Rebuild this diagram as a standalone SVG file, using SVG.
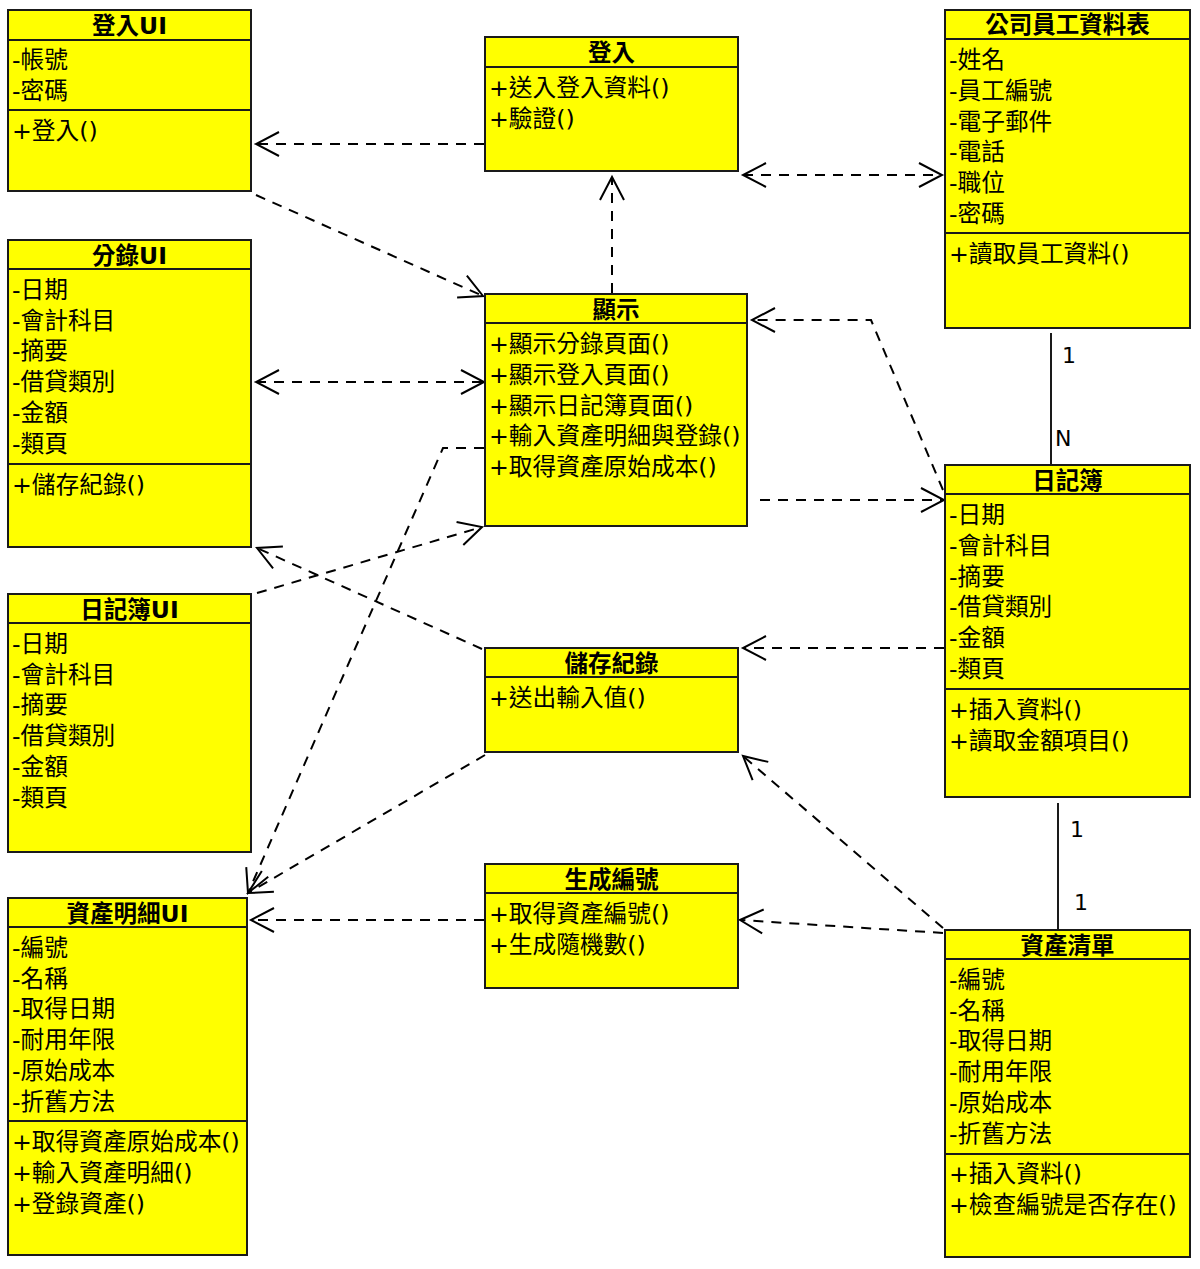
<svg xmlns="http://www.w3.org/2000/svg" width="1200" height="1269" viewBox="0 0 1200 1269">
<style>
.box{fill:#ffff00;stroke:#1a1a1a;stroke-width:2}
.sep{stroke:#1a1a1a;stroke-width:2}
text{font-family:"DejaVu Sans","Noto Sans CJK TC",sans-serif;fill:#000}
.h{font-size:23.5px;font-weight:bold;text-anchor:middle}
.t{font-size:23.7px}
.dep{fill:none;stroke:#000;stroke-width:2;stroke-dasharray:10,8}
.assoc{fill:none;stroke:#1a1a1a;stroke-width:2}
.lbl{font-size:22px}
</style>
<defs>
<marker id="arr" markerUnits="userSpaceOnUse" viewBox="-26 -15 30 30" refX="0" refY="0" markerWidth="30" markerHeight="30" orient="auto-start-reverse">
<path d="M -23 -12 L 0 0 L -23 12" fill="none" stroke="#000" stroke-width="2"/>
</marker>
</defs>

<g id="connectors">
<path class="dep" d="M 484 144 L 256 144" marker-end="url(#arr)"/>
<path class="dep" d="M 256 195 L 483 296" marker-end="url(#arr)"/>
<path class="dep" d="M 612 293 L 612 177" marker-end="url(#arr)"/>
<path class="dep" d="M 743 175 L 942 175" marker-start="url(#arr)" marker-end="url(#arr)"/>
<path class="dep" d="M 256 382 L 484 382" marker-start="url(#arr)" marker-end="url(#arr)"/>
<path class="dep" d="M 943 490 L 871 320 L 752 320" marker-end="url(#arr)"/>
<path class="dep" d="M 760 500 L 944 500" marker-end="url(#arr)"/>
<path class="dep" d="M 484 448 L 443 448 L 248 893" marker-end="url(#arr)"/>
<path class="dep" d="M 257 593 L 482 527" marker-end="url(#arr)"/>
<path class="dep" d="M 482 649 L 257 548" marker-end="url(#arr)"/>
<path class="dep" d="M 944 648 L 743 648" marker-end="url(#arr)"/>
<path class="dep" d="M 485 755 L 248 893" marker-end="url(#arr)"/>
<path class="dep" d="M 943 928 L 743 756" marker-end="url(#arr)"/>
<path class="dep" d="M 943 933 L 740 920" marker-end="url(#arr)"/>
<path class="dep" d="M 484 920 L 251 920" marker-end="url(#arr)"/>
<path class="assoc" d="M 1051 333 L 1051 465"/>
<path class="assoc" d="M 1058 803 L 1058 930"/>
<text class="lbl" x="1062" y="363">1</text>
<text class="lbl" x="1055" y="446">N</text>
<text class="lbl" x="1070" y="837">1</text>
<text class="lbl" x="1074" y="910">1</text>
</g>

<g id="loginUI">
<rect class="box" x="8" y="10" width="243" height="181"/>
<line class="sep" x1="8" y1="40" x2="251" y2="40"/>
<line class="sep" x1="8" y1="110" x2="251" y2="110"/>
<text class="h" x="129.5" y="34">登入UI</text>
<text class="t" x="12" y="68">-帳號</text>
<text class="t" x="12" y="99">-密碼</text>
<text class="t" x="12" y="139">+登入()</text>
</g>

<g id="login">
<rect class="box" x="485" y="37" width="253" height="134"/>
<line class="sep" x1="485" y1="67" x2="738" y2="67"/>
<text class="h" x="611.5" y="61">登入</text>
<text class="t" x="489" y="96">+送入登入資料()</text>
<text class="t" x="489" y="127">+驗證()</text>
</g>

<g id="employee">
<rect class="box" x="945" y="10" width="245" height="318"/>
<line class="sep" x1="945" y1="39" x2="1190" y2="39"/>
<line class="sep" x1="945" y1="233" x2="1190" y2="233"/>
<text class="h" x="1067.5" y="33">公司員工資料表</text>
<text class="t" x="949" y="68">-姓名</text>
<text class="t" x="949" y="99">-員工編號</text>
<text class="t" x="949" y="130">-電子郵件</text>
<text class="t" x="949" y="160">-電話</text>
<text class="t" x="949" y="191">-職位</text>
<text class="t" x="949" y="222">-密碼</text>
<text class="t" x="949" y="262">+讀取員工資料()</text>
</g>

<g id="display">
<rect class="box" x="485" y="294" width="262" height="232"/>
<line class="sep" x1="485" y1="323" x2="747" y2="323"/>
<text class="h" x="616" y="318">顯示</text>
<text class="t" x="489" y="352">+顯示分錄頁面()</text>
<text class="t" x="489" y="383">+顯示登入頁面()</text>
<text class="t" x="489" y="414">+顯示日記簿頁面()</text>
<text class="t" x="489" y="444">+輸入資產明細與登錄()</text>
<text class="t" x="489" y="475">+取得資產原始成本()</text>
</g>

<g id="entryUI">
<rect class="box" x="8" y="240" width="243" height="307"/>
<line class="sep" x1="8" y1="269" x2="251" y2="269"/>
<line class="sep" x1="8" y1="464" x2="251" y2="464"/>
<text class="h" x="129.5" y="264">分錄UI</text>
<text class="t" x="12" y="298">-日期</text>
<text class="t" x="12" y="329">-會計科目</text>
<text class="t" x="12" y="359">-摘要</text>
<text class="t" x="12" y="390">-借貸類別</text>
<text class="t" x="12" y="421">-金額</text>
<text class="t" x="12" y="452">-類頁</text>
<text class="t" x="12" y="493">+儲存紀錄()</text>
</g>

<g id="journalUI">
<rect class="box" x="8" y="594" width="243" height="258"/>
<line class="sep" x1="8" y1="623" x2="251" y2="623"/>
<text class="h" x="129.5" y="618">日記簿UI</text>
<text class="t" x="12" y="652">-日期</text>
<text class="t" x="12" y="683">-會計科目</text>
<text class="t" x="12" y="713">-摘要</text>
<text class="t" x="12" y="744">-借貸類別</text>
<text class="t" x="12" y="775">-金額</text>
<text class="t" x="12" y="806">-類頁</text>
</g>

<g id="assetUI">
<rect class="box" x="8" y="898" width="239" height="357"/>
<line class="sep" x1="8" y1="927" x2="247" y2="927"/>
<line class="sep" x1="8" y1="1121" x2="247" y2="1121"/>
<text class="h" x="127.5" y="922">資產明細UI</text>
<text class="t" x="12" y="956">-編號</text>
<text class="t" x="12" y="987">-名稱</text>
<text class="t" x="12" y="1017">-取得日期</text>
<text class="t" x="12" y="1048">-耐用年限</text>
<text class="t" x="12" y="1079">-原始成本</text>
<text class="t" x="12" y="1110">-折舊方法</text>
<text class="t" x="12" y="1150">+取得資產原始成本()</text>
<text class="t" x="12" y="1181">+輸入資產明細()</text>
<text class="t" x="12" y="1212">+登錄資產()</text>
</g>

<g id="save">
<rect class="box" x="485" y="648" width="253" height="104"/>
<line class="sep" x1="485" y1="677" x2="738" y2="677"/>
<text class="h" x="611.5" y="672">儲存紀錄</text>
<text class="t" x="489" y="706">+送出輸入值()</text>
</g>

<g id="gen">
<rect class="box" x="485" y="864" width="253" height="124"/>
<line class="sep" x1="485" y1="893" x2="738" y2="893"/>
<text class="h" x="611.5" y="888">生成編號</text>
<text class="t" x="489" y="922">+取得資產編號()</text>
<text class="t" x="489" y="953">+生成隨機數()</text>
</g>

<g id="journal">
<rect class="box" x="945" y="465" width="245" height="332"/>
<line class="sep" x1="945" y1="494" x2="1190" y2="494"/>
<line class="sep" x1="945" y1="689" x2="1190" y2="689"/>
<text class="h" x="1067.5" y="489">日記簿</text>
<text class="t" x="949" y="523">-日期</text>
<text class="t" x="949" y="554">-會計科目</text>
<text class="t" x="949" y="585">-摘要</text>
<text class="t" x="949" y="615">-借貸類別</text>
<text class="t" x="949" y="646">-金額</text>
<text class="t" x="949" y="677">-類頁</text>
<text class="t" x="949" y="718">+插入資料()</text>
<text class="t" x="949" y="749">+讀取金額項目()</text>
</g>

<g id="assets">
<rect class="box" x="945" y="930" width="245" height="327"/>
<line class="sep" x1="945" y1="959" x2="1190" y2="959"/>
<line class="sep" x1="945" y1="1154" x2="1190" y2="1154"/>
<text class="h" x="1067.5" y="954">資產清單</text>
<text class="t" x="949" y="988">-編號</text>
<text class="t" x="949" y="1019">-名稱</text>
<text class="t" x="949" y="1049">-取得日期</text>
<text class="t" x="949" y="1080">-耐用年限</text>
<text class="t" x="949" y="1111">-原始成本</text>
<text class="t" x="949" y="1142">-折舊方法</text>
<text class="t" x="949" y="1182">+插入資料()</text>
<text class="t" x="949" y="1213">+檢查編號是否存在()</text>
</g>
</svg>
